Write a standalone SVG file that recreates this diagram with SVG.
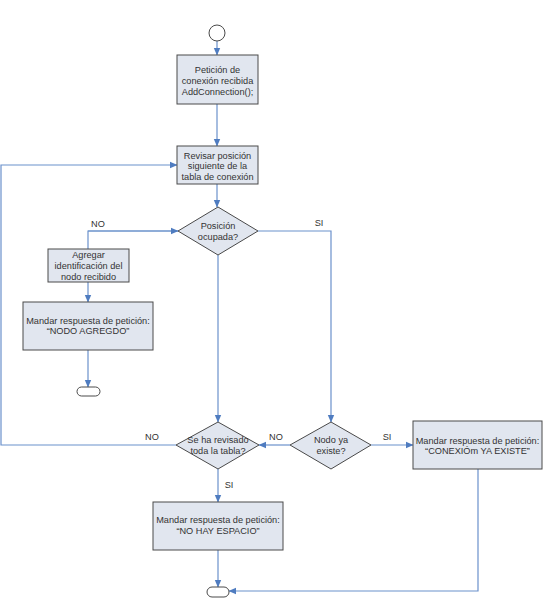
<svg xmlns="http://www.w3.org/2000/svg" width="551" height="602" viewBox="0 0 551 602">
<defs>
<style>
.box{fill:#e1e6ef;stroke:#4a4a4a;stroke-width:1}
.term{fill:#ffffff;stroke:#4a4a4a;stroke-width:1}
.t{font-family:"Liberation Sans",Arial,sans-serif;font-size:9.2px;fill:#333333;text-anchor:middle}
.lbl{font-family:"Liberation Sans",Arial,sans-serif;font-size:9.2px;fill:#333333;text-anchor:middle}
.c{fill:none;stroke:#6b91cc;stroke-width:1.2}
</style>
<marker id="ah" markerWidth="8" markerHeight="8" refX="7" refY="4" orient="auto" markerUnits="userSpaceOnUse">
<path d="M0,0.8 L7.5,4 L0,7.2 Z" fill="#4f7cc0"/>
</marker>
</defs>
<rect width="551" height="602" fill="#ffffff"/>

<g id="connectors">
<line class="c" x1="217" y1="41" x2="217" y2="55" marker-end="url(#ah)"/>
<line class="c" x1="217" y1="104" x2="217" y2="146" marker-end="url(#ah)"/>
<line class="c" x1="217" y1="184" x2="217" y2="207" marker-end="url(#ah)"/>
<polyline class="c" points="178,231 88,231 88,249"/>
<line class="c" x1="88" y1="231" x2="178" y2="231" marker-end="url(#ah)"/>
<line class="c" x1="88" y1="282" x2="88" y2="302" marker-end="url(#ah)"/>
<line class="c" x1="88" y1="350" x2="88" y2="387" marker-end="url(#ah)"/>
<line class="c" x1="218" y1="255" x2="218" y2="422" marker-end="url(#ah)"/>
<polyline class="c" points="258,231 331,231 331,422" marker-end="url(#ah)"/>
<line class="c" x1="290" y1="445" x2="259" y2="445" marker-end="url(#ah)"/>
<line class="c" x1="371" y1="445" x2="413" y2="445" marker-end="url(#ah)"/>
<polyline class="c" points="176,445 1,445 1,165 177,165" marker-end="url(#ah)"/>
<line class="c" x1="218" y1="469" x2="218" y2="502" marker-end="url(#ah)"/>
<line class="c" x1="218" y1="550" x2="218" y2="587" marker-end="url(#ah)"/>
<polyline class="c" points="478,469 478,591 229,591" marker-end="url(#ah)"/>
<text class="lbl" x="98" y="227">NO</text>
<text class="lbl" x="319" y="226">SI</text>
<text class="lbl" x="276" y="440">NO</text>
<text class="lbl" x="387" y="440">SI</text>
<text class="lbl" x="152" y="440">NO</text>
<text class="lbl" x="229" y="488">SI</text>
</g>

<g id="start"><circle class="term" cx="217" cy="33" r="8"/></g>

<g id="peticion">
<rect class="box" x="177" y="55" width="81" height="49"/>
<text class="t" x="217.5" y="73">Petición de</text>
<text class="t" x="217.5" y="84">conexión recibida</text>
<text class="t" x="217.5" y="95">AddConnection();</text>
</g>

<g id="revisar">
<rect class="box" x="177" y="146" width="81" height="38"/>
<text class="t" x="217.5" y="158.5">Revisar posición</text>
<text class="t" x="217.5" y="169">siguiente de la</text>
<text class="t" x="217.5" y="179.5">tabla de conexión</text>
</g>

<g id="ocupada">
<polygon class="box" points="218,207 258,231 218,255 178,231"/>
<text class="t" x="218" y="229">Posición</text>
<text class="t" x="218" y="240">ocupada?</text>
</g>

<g id="agregar">
<rect class="box" x="48" y="249" width="81" height="33"/>
<text class="t" x="88.5" y="258">Agregar</text>
<text class="t" x="88.5" y="269">identificación del</text>
<text class="t" x="88.5" y="280">nodo recibido</text>
</g>

<g id="agregado">
<rect class="box" x="23" y="302" width="130" height="48"/>
<text class="t" x="88" y="323.5">Mandar respuesta de petición:</text>
<text class="t" x="88" y="334">“NODO AGREGDO”</text>
</g>

<g id="end1"><rect class="term" x="77" y="387" width="23" height="9" rx="4.5"/></g>

<g id="revisado">
<polygon class="box" points="218,422 259,445 218,469 176,445"/>
<text class="t" x="218" y="443">Se ha revisado</text>
<text class="t" x="218" y="454">toda la tabla?</text>
</g>

<g id="existe">
<polygon class="box" points="331,422 371,445 331,469 290,445"/>
<text class="t" x="331" y="443">Nodo ya</text>
<text class="t" x="331" y="454">existe?</text>
</g>

<g id="conexion">
<rect class="box" x="413" y="421" width="129" height="48"/>
<text class="t" x="477.5" y="443.5">Mandar respuesta de petición:</text>
<text class="t" x="477.5" y="454">“CONEXIÓm YA EXISTE”</text>
</g>

<g id="espacio">
<rect class="box" x="153" y="502" width="130" height="48"/>
<text class="t" x="218" y="523">Mandar respuesta de petición:</text>
<text class="t" x="218" y="534">“NO HAY ESPACIO”</text>
</g>

<g id="end2"><rect class="term" x="207" y="587" width="22" height="10" rx="5"/></g>
</svg>
